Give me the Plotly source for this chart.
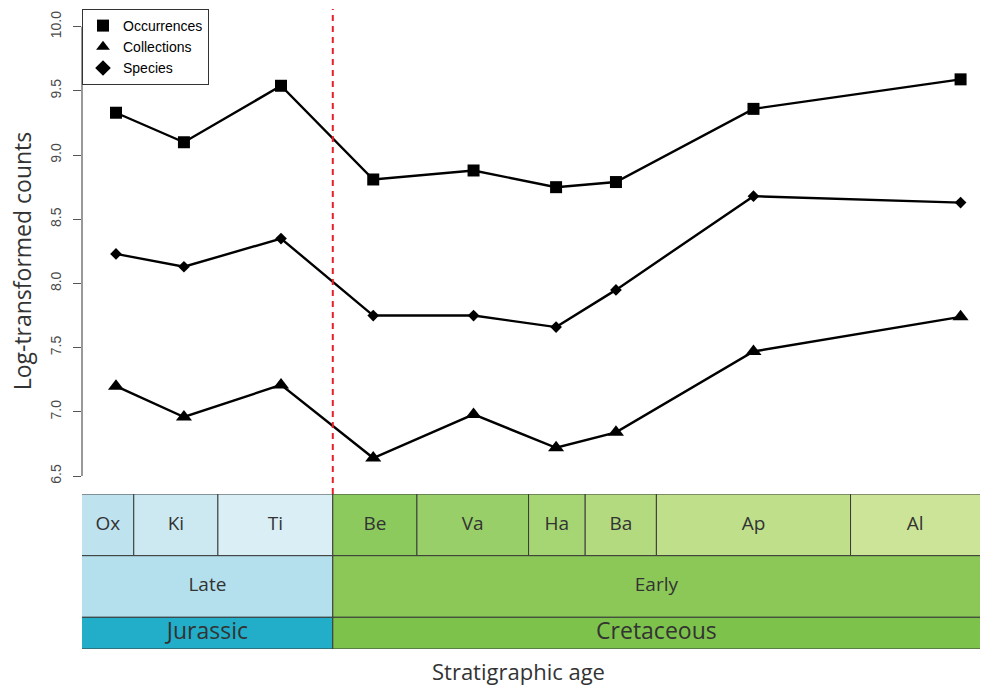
import plotly.graph_objects as go

# Stage-level diversity counts (log-transformed), Late Jurassic – Early Cretaceous
stage_names = ["Ox", "Ki", "Ti", "Be", "Va", "Ha", "Ba", "Ap", "Al"]
stage_base_ma = [163.5, 157.3, 152.1, 145.0, 139.8, 132.9, 129.4, 125.0, 113.0]
stage_top_ma = [157.3, 152.1, 145.0, 139.8, 132.9, 129.4, 125.0, 113.0, 100.5]
stage_age_ma = [158.4, 154.2, 148.2, 142.5, 136.3, 131.2, 127.5, 119.0, 106.2]

occurrences = [9.33, 9.10, 9.54, 8.81, 8.88, 8.75, 8.79, 9.36, 9.59]
collections = [7.20, 6.96, 7.21, 6.64, 6.98, 6.72, 6.84, 7.47, 7.74]
species = [8.23, 8.13, 8.35, 7.75, 7.75, 7.66, 7.95, 8.68, 8.63]

epoch_names = ["Late", "Early"]
epoch_base_ma = [163.5, 145.0]
epoch_top_ma = [145.0, 100.5]

period_names = ["Jurassic", "Cretaceous"]
period_base_ma = [201.3, 145.0]
period_top_ma = [145.0, 66.0]

y_ticks = [6.5, 7.0, 7.5, 8.0, 8.5, 9.0, 9.5, 10.0]
boundary_ma = 145.0

# ---- styling ----
stage_colors = ["#BFE3EE", "#CCE9F2", "#D9EFF5", "#8CCA5E", "#99CF68", "#A6D573",
                "#B3DA7E", "#BFDF8A", "#CCE498"]
epoch_colors = ["#B3E0EC", "#8BC857"]
period_colors = ["#22AEC8", "#7DC24B"]
X_RANGE = [160.5, 105.0]
Y_RANGE = [6.36, 10.138]
# timescale rows (units of the lower panel's own axis)
ROW_PERIOD = (0.0, 31.7)
ROW_EPOCH = (31.7, 93.3)
ROW_STAGE = (93.3, 155.0)
UI_FONT = "Open Sans"
PLOT_FONT = "Liberation Sans"
TEXT_DARK = "#333333"
AXIS_GREY = "#555555"

fig = go.Figure()

series = [
    ("Occurrences", occurrences, "square", 12),
    ("Collections", collections, "triangle-up", 14),
    ("Species", species, "diamond", 9),
]
for name, values, symbol, size in series:
    fig.add_trace(go.Scatter(
        x=stage_age_ma, y=values, mode="lines",
        line=dict(color="black", width=2.4),
        showlegend=False, hoverinfo="skip",
    ))
    fig.add_trace(go.Scatter(
        x=stage_age_ma, y=values, mode="markers", name=name,
        marker=dict(symbol=symbol, size=size, color="black", line=dict(width=0)),
    ))


def visible_center(a, b):
    lo, hi = min(X_RANGE), max(X_RANGE)
    a2 = min(max(a, lo), hi)
    b2 = min(max(b, lo), hi)
    return (a2 + b2) / 2


def add_row(names, bases, tops, colors, row, font_size):
    y0, y1 = row
    for b, t, c in zip(bases, tops, colors):
        fig.add_shape(type="rect", xref="x", yref="y2", x0=b, x1=t, y0=y0, y1=y1,
                      fillcolor=c, line=dict(color="#3a3a3a", width=1), layer="below")
    fig.add_trace(go.Scatter(
        x=[visible_center(b, t) for b, t in zip(bases, tops)],
        y=[(y0 + y1) / 2] * len(names),
        text=names, mode="text", xaxis="x", yaxis="y2",
        textfont=dict(family=UI_FONT, size=font_size, color=TEXT_DARK),
        textposition="middle center", showlegend=False, hoverinfo="skip",
    ))


add_row(stage_names, stage_base_ma, stage_top_ma, stage_colors, ROW_STAGE, 19)
add_row(epoch_names, epoch_base_ma, epoch_top_ma, epoch_colors, ROW_EPOCH, 19)
add_row(period_names, period_base_ma, period_top_ma, period_colors, ROW_PERIOD, 23)

# Jurassic / Cretaceous boundary
fig.add_shape(type="line", xref="x", yref="y domain", x0=boundary_ma, x1=boundary_ma,
              y0=0, y1=1, line=dict(color="#E8202A", width=2, dash="6px,5px"))
# y-axis line spanning the tick range only
fig.add_shape(type="line", xref="x domain", yref="y", x0=0, x1=0,
              y0=min(y_ticks), y1=max(y_ticks), line=dict(color=AXIS_GREY, width=1.2))

fig.add_annotation(text="Log-transformed counts", xref="paper", yref="paper",
                   x=-0.067, y=0.607, textangle=-90, showarrow=False,
                   xanchor="center", yanchor="middle",
                   font=dict(family=UI_FONT, size=23, color=TEXT_DARK))
fig.add_annotation(text="Stratigraphic age", xref="paper", yref="paper",
                   x=0.4866, y=-0.035, showarrow=False,
                   xanchor="center", yanchor="middle",
                   font=dict(family=UI_FONT, size=22, color=TEXT_DARK))

fig.update_layout(
    width=981, height=688,
    margin=dict(l=82, r=1, t=9, b=39),
    paper_bgcolor="white", plot_bgcolor="white",
    xaxis=dict(range=X_RANGE, visible=False, anchor="y2", fixedrange=True),
    yaxis=dict(domain=[0.2422, 1.0], range=Y_RANGE, tickvals=y_ticks,
               ticktext=[f"{v:.1f}" for v in y_ticks], tickangle=-90,
               ticks="outside", ticklen=8, tickwidth=1.2, tickcolor=AXIS_GREY,
               showline=False, showgrid=False, zeroline=False,
               tickfont=dict(family=PLOT_FONT, size=14, color="#4a4a4a"),
               ticklabelstandoff=6, anchor="x"),
    yaxis2=dict(domain=[0.0, 0.2422], range=[ROW_PERIOD[0], ROW_STAGE[1]],
                visible=False, anchor="x", fixedrange=True),
    legend=dict(x=0, y=1, xanchor="left", yanchor="top",
                bordercolor="#333333", borderwidth=1, bgcolor="white",
                font=dict(family=PLOT_FONT, size=14, color="black"),
                tracegroupgap=0, itemsizing="constant"),
    showlegend=True,
)

fig.write_html("out.html")
